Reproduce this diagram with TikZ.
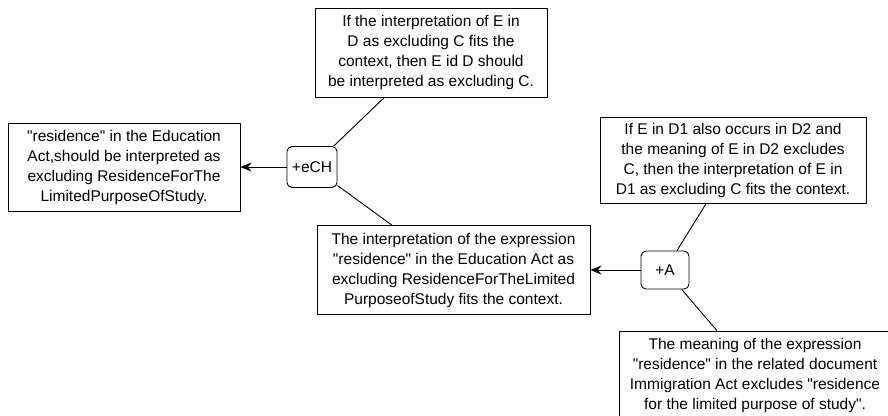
\documentclass[tikz,border=0pt]{standalone}
\usepackage{fontspec}
\setmainfont{Liberation Sans}[Ligatures=TeXOff]
\usetikzlibrary{arrows.meta}

\begin{document}
\begin{tikzpicture}[x=1pt,y=-1pt,
  every node/.style={font=\fontsize{15.5}{20}\selectfont,align=center},
  stmt/.style={draw,line width=0.9pt,inner sep=0pt},
  scheme/.style={draw,line width=0.9pt,rounded corners=5pt,inner sep=0pt},
  link/.style={line width=0.9pt},
  arr/.style={line width=0.9pt,-{Stealth[length=11pt,width=9pt,inset=3.5pt]}}]
\useasboundingbox (0,0) rectangle (888,415);

% statements
\node[stmt,minimum width=232pt,minimum height=89pt] (W) at (431,52.5) {If the interpretation of E in\\D as excluding C fits the\\context, then E id D should\\be interpreted as excluding C.};
\node[stmt,minimum width=232pt,minimum height=88pt] (C) at (124,167) {"residence" in the Education\\Act,should be interpreted as\\excluding ResidenceForThe\\LimitedPurposeOfStudy.};
\node[stmt,minimum width=273pt,minimum height=89pt] (P) at (453.5,270) {The interpretation of the expression\\ "residence" in the Education Act as\\excluding ResidenceForTheLimited\\PurposeofStudy fits the context.};
\node[stmt,minimum width=266pt,minimum height=86pt] (W2) at (733,160) {If E in D1 also occurs in D2 and\\the meaning of E in D2 excludes\\C, then the interpretation of E in\\D1 as excluding C fits the context.};
\node[stmt,minimum width=272pt,minimum height=88pt] (D) at (755,375) {The meaning of the expression\\"residence" in the related document\\Immigration Act excludes "residence\\for the limited purpose of study".};

% schemes
\node[scheme,minimum width=50pt,minimum height=41pt] (eCH) at (312,167) {+eCH};
\node[scheme,minimum width=48pt,minimum height=38pt] (A) at (665,270) {+A};

\draw[arr] (eCH) -- (C);
\draw[link] (eCH) -- (W);
\draw[link] (eCH) -- (P);
\draw[arr] (A) -- (P);
\draw[link] (A) -- (W2);
\draw[link] (A) -- (D);

\end{tikzpicture}
\end{document}
